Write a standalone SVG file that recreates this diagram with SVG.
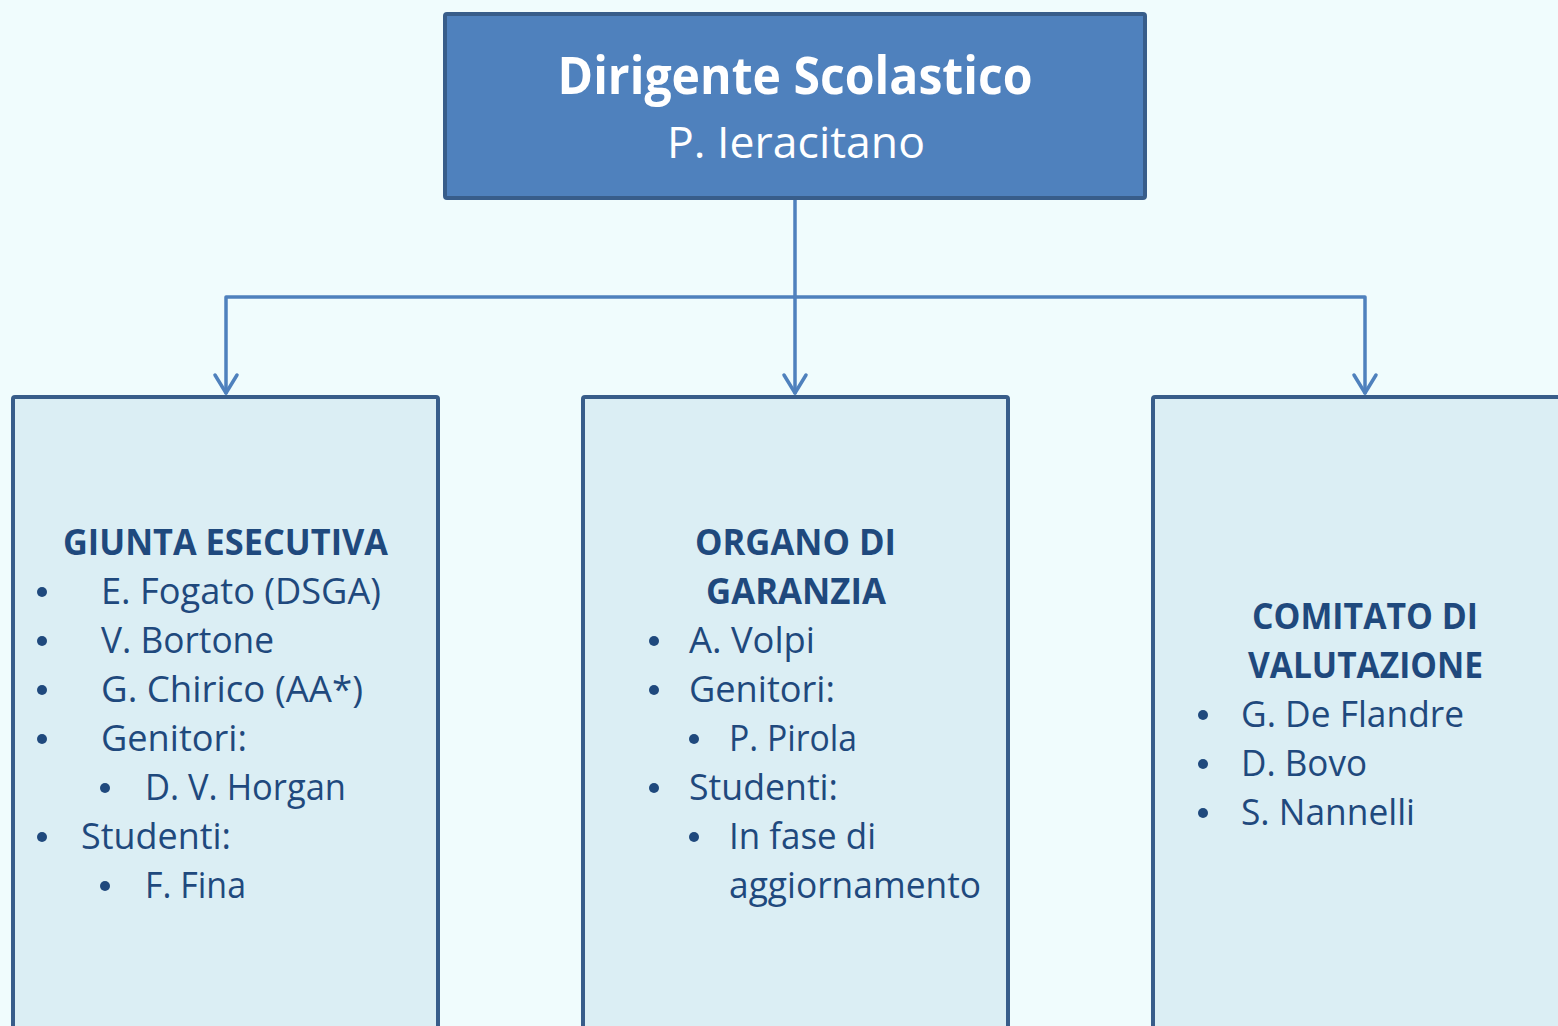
<svg xmlns="http://www.w3.org/2000/svg" width="1558" height="1026" viewBox="0 0 1558 1026">
<style>
.bg{fill:#F0FCFD}
.top{fill:#4F81BD;stroke:#385D8A;stroke-width:4}
.box{fill:#DBEEF4;stroke:#385D8A;stroke-width:4}
.conn{fill:none;stroke:#4F81BD;stroke-width:3.5;stroke-linecap:round;stroke-linejoin:round}
.t1{font-family:"Open Sans","Noto Sans",sans-serif;font-weight:bold;font-size:52px;fill:#FFFFFF}
.t2{font-family:"Open Sans","Noto Sans",sans-serif;font-size:44px;fill:#FFFFFF}
.h{font-family:"Open Sans","Noto Sans",sans-serif;font-weight:bold;font-size:35px;fill:#1F497D}
.b{font-family:"Open Sans","Noto Sans",sans-serif;font-size:36px;fill:#1F497D}
.dot{fill:#1F497D}
</style>
<defs>
<marker id="arr" markerUnits="userSpaceOnUse" markerWidth="30" markerHeight="30" refX="24" refY="15" orient="auto" viewBox="0 0 30 30">
<path d="M6 4 L24 15 L6 26" fill="none" stroke="#4F81BD" stroke-width="3.5" stroke-linecap="round" stroke-linejoin="round"/>
</marker>
</defs>
<rect class="bg" x="0" y="0" width="1558" height="1026"/>
<g id="connectors">
<path class="conn" d="M795 199 L795 393" marker-end="url(#arr)"/>
<path class="conn" d="M795 297 L226 297 L226 393" marker-end="url(#arr)"/>
<path class="conn" d="M795 297 L1365 297 L1365 393" marker-end="url(#arr)"/>
</g>
<g id="dirigente">
<rect class="top" x="445" y="14" width="700" height="184" rx="2"/>
<text class="t1" x="795" y="94" text-anchor="middle" textLength="475" lengthAdjust="spacingAndGlyphs">Dirigente Scolastico</text>
<text class="t2" x="796" y="158" text-anchor="middle" textLength="258" lengthAdjust="spacingAndGlyphs">P. Ieracitano</text>
</g>
<g id="giunta">
<rect class="box" x="13" y="397" width="425" height="660" rx="2"/>
<text class="h" x="63" y="555" textLength="325" lengthAdjust="spacingAndGlyphs">GIUNTA ESECUTIVA</text>
<circle class="dot" cx="42" cy="592" r="5"/>
<text class="b" x="101" y="604" textLength="280" lengthAdjust="spacingAndGlyphs">E. Fogato (DSGA)</text>
<circle class="dot" cx="42" cy="641" r="5"/>
<text class="b" x="101" y="653" textLength="173" lengthAdjust="spacingAndGlyphs">V. Bortone</text>
<circle class="dot" cx="42" cy="690" r="5"/>
<text class="b" x="101" y="702" textLength="262" lengthAdjust="spacingAndGlyphs">G. Chirico (AA*)</text>
<circle class="dot" cx="42" cy="739" r="5"/>
<text class="b" x="101" y="751" textLength="146" lengthAdjust="spacingAndGlyphs">Genitori:</text>
<circle class="dot" cx="105" cy="788" r="5"/>
<text class="b" x="145" y="800" textLength="201" lengthAdjust="spacingAndGlyphs">D. V. Horgan</text>
<circle class="dot" cx="42" cy="837" r="5"/>
<text class="b" x="81" y="849" textLength="150" lengthAdjust="spacingAndGlyphs">Studenti:</text>
<circle class="dot" cx="105" cy="886" r="5"/>
<text class="b" x="145" y="898" textLength="101" lengthAdjust="spacingAndGlyphs">F. Fina</text>
</g>
<g id="organo">
<rect class="box" x="583" y="397" width="425" height="660" rx="2"/>
<text class="h" x="695" y="555" textLength="201" lengthAdjust="spacingAndGlyphs">ORGANO DI</text>
<text class="h" x="706" y="604" textLength="180" lengthAdjust="spacingAndGlyphs">GARANZIA</text>
<circle class="dot" cx="654" cy="641" r="5"/>
<text class="b" x="689" y="653" textLength="126" lengthAdjust="spacingAndGlyphs">A. Volpi</text>
<circle class="dot" cx="654" cy="690" r="5"/>
<text class="b" x="689" y="702" textLength="146" lengthAdjust="spacingAndGlyphs">Genitori:</text>
<circle class="dot" cx="694" cy="739" r="5"/>
<text class="b" x="729" y="751" textLength="128" lengthAdjust="spacingAndGlyphs">P. Pirola</text>
<circle class="dot" cx="654" cy="788" r="5"/>
<text class="b" x="689" y="800" textLength="149" lengthAdjust="spacingAndGlyphs">Studenti:</text>
<circle class="dot" cx="694" cy="837" r="5"/>
<text class="b" x="729" y="849" textLength="147" lengthAdjust="spacingAndGlyphs">In fase di</text>
<text class="b" x="729" y="898" textLength="252" lengthAdjust="spacingAndGlyphs">aggiornamento</text>
</g>
<g id="comitato">
<rect class="box" x="1153" y="397" width="460" height="660" rx="2"/>
<text class="h" x="1252" y="629" textLength="226" lengthAdjust="spacingAndGlyphs">COMITATO DI</text>
<text class="h" x="1248" y="678" textLength="235" lengthAdjust="spacingAndGlyphs">VALUTAZIONE</text>
<circle class="dot" cx="1203" cy="715" r="5"/>
<text class="b" x="1241" y="727" textLength="223" lengthAdjust="spacingAndGlyphs">G. De Flandre</text>
<circle class="dot" cx="1203" cy="764" r="5"/>
<text class="b" x="1241" y="776" textLength="126" lengthAdjust="spacingAndGlyphs">D. Bovo</text>
<circle class="dot" cx="1203" cy="813" r="5"/>
<text class="b" x="1241" y="825" textLength="174" lengthAdjust="spacingAndGlyphs">S. Nannelli</text>
</g>
</svg>
